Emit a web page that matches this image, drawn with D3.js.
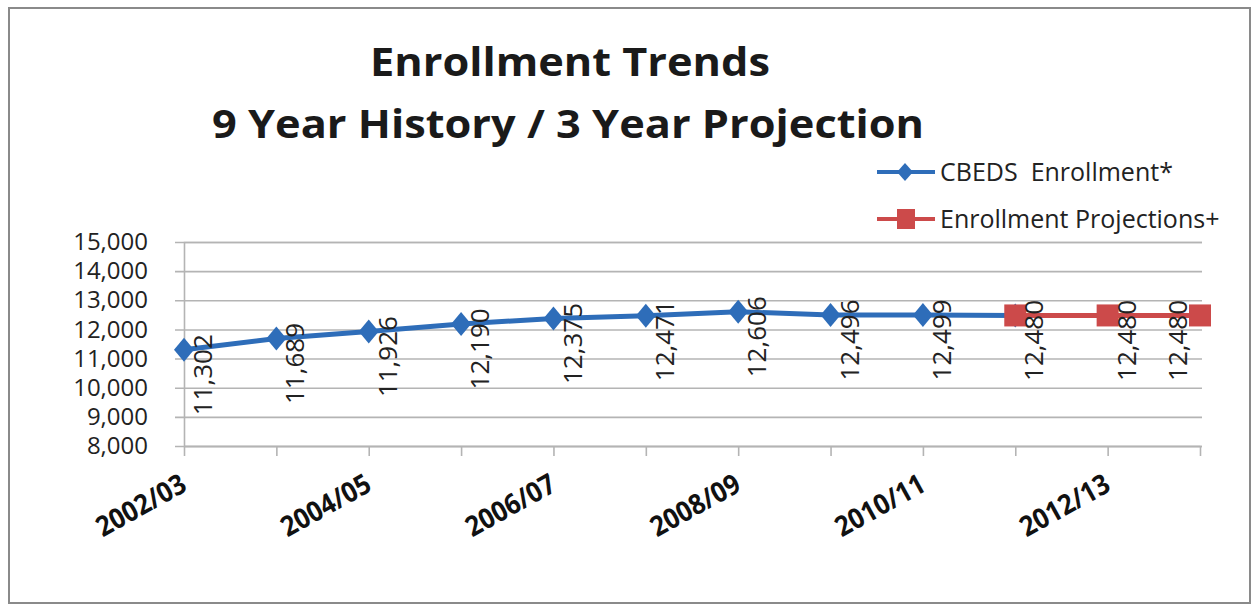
<!DOCTYPE html>
<html>
<head>
<meta charset="utf-8">
<script src="https://cdn.jsdelivr.net/npm/d3@7"></script>
<style>
  html, body { margin: 0; padding: 0; background: #fff; }
  svg { display: block; font-family: "Open Sans", "Liberation Sans", sans-serif; }
</style>
</head>
<body>
<svg id="chart"></svg>
<script>
// categories along the x axis
const years = ["2002/03", "2003/04", "2004/05", "2005/06", "2006/07", "2007/08",
	"2008/09", "2009/10", "2010/11", "2011/12", "2012/13", "2013/14"];
// only every other year gets a label
const yearLabels = ["2002/03", "2004/05", "2006/07", "2008/09", "2010/11", "2012/13"];

// CBEDS history (last value joins the line to the first projection)
const cbedsYears = years.slice(0, 10);
const cbedsValues = [11302, 11689, 11926, 12190, 12375, 12471, 12606, 12496, 12499, 12480];
// projections
const projYears = ["2011/12", "2012/13", "2013/14"];
const projValues = [12480, 12480, 12480];

const yTicks = [8000, 9000, 10000, 11000, 12000, 13000, 14000, 15000];

const W = 1257, H = 614;
const margin = { top: 242, right: 57, bottom: 168, left: 184 };
const plotW = W - margin.left - margin.right;
const plotH = H - margin.top - margin.bottom;
const blue = "#2e6db9";
const red = "#cc4a4a";
const grid = "#b4b4b4";

const svg = d3.select("#chart").attr("width", W).attr("height", H);

// outer frame
svg.append("rect")
	.attr("x", 9).attr("y", 8)
	.attr("width", 1241).attr("height", 595)
	.attr("fill", "#fff")
	.attr("stroke", "#8a8a8a")
	.attr("stroke-width", 2);

const x = d3.scalePoint().domain(years).range([0, plotW]);
const y = d3.scaleLinear().domain([8000, 15000]).range([plotH, 0]);

const g = svg.append("g").attr("transform", `translate(${margin.left},${margin.top})`);

// gridlines + y axis
const yAxis = d3.axisLeft(y)
	.tickValues(yTicks)
	.tickSize(-plotW - 2)
	.tickPadding(36)
	.tickFormat(d3.format(","));
g.append("g")
	.attr("class", "y-axis")
	.call(yAxis)
	.call(a => a.selectAll(".tick line")
		.attr("x1", -9)
		.attr("stroke", grid)
		.attr("stroke-width", 1.6))
	.call(a => a.select(".domain").attr("stroke", grid).attr("stroke-width", 1.6))
	.call(a => a.selectAll("text")
		.attr("fill", "#222")
		.attr("font-size", 24)
		.attr("font-family", "Open Sans"));

// x axis
const xAxis = d3.axisBottom(x)
	.tickSizeInner(10)
	.tickSizeOuter(0)
	.tickFormat(d => yearLabels.includes(d) ? d : "");
g.append("g")
	.attr("transform", `translate(0,${plotH})`)
	.call(xAxis)
	.call(a => a.select(".domain").attr("stroke", grid).attr("stroke-width", 1.6))
	.call(a => a.selectAll(".tick line").attr("stroke", grid).attr("stroke-width", 1.6))
	.call(a => a.selectAll("text")
		.attr("fill", "#111")
		.attr("font-size", 28)
		.attr("font-weight", 700)
		.attr("font-family", "Open Sans")
		.attr("text-anchor", "end")
		.attr("dy", null)
		.attr("y", 0)
		.attr("textLength", 98)
		.attr("lengthAdjust", "spacingAndGlyphs")
		.attr("transform", "translate(4,44) rotate(-29)"));

const line = d3.line().x(d => x(d.year)).y(d => y(d.value));
const cbeds = cbedsYears.map((yr, i) => ({ year: yr, value: cbedsValues[i] }));
const proj = projYears.map((yr, i) => ({ year: yr, value: projValues[i] }));

g.append("path").datum(cbeds)
	.attr("fill", "none").attr("stroke", blue).attr("stroke-width", 5)
	.attr("d", line);
g.append("path").datum(proj)
	.attr("fill", "none").attr("stroke", red).attr("stroke-width", 5)
	.attr("d", line);

const diamond = "M0,-12L10,0L0,12L-10,0Z";
g.append("g").selectAll("path")
	.data(cbeds)
	.join("path")
	.attr("d", diamond)
	.attr("fill", blue)
	.attr("transform", d => `translate(${x(d.year)},${y(d.value)})`);

g.append("g").selectAll("rect")
	.data(proj)
	.join("rect")
	.attr("x", d => x(d.year) - 11)
	.attr("y", d => y(d.value) - 11)
	.attr("width", 22).attr("height", 22)
	.attr("fill", red);

// data labels, rotated; projection points replace the overlapping history one
const labelled = cbeds.filter(d => !projYears.includes(d.year)).concat(proj);
g.append("g").selectAll("text")
	.data(labelled)
	.join("text")
	.attr("transform", d => {
		const lx = Math.min(x(d.year) + 19, plotW - 22);
		return `translate(${lx},${y(d.value) + 25}) rotate(-90)`;
	})
	.attr("text-anchor", "middle")
	.attr("dy", "0.35em")
	.attr("font-size", 26)
	.attr("fill", "#222")
	.text(d => d3.format(",")(d.value));

// title
const title = svg.append("g").attr("font-weight", 700).attr("fill", "#1a1a1a").attr("font-size", 40);
title.append("text").attr("x", 570).attr("y", 76).attr("text-anchor", "middle")
	.attr("textLength", 400).attr("lengthAdjust", "spacingAndGlyphs")
	.text("Enrollment Trends");
title.append("text").attr("x", 568).attr("y", 138).attr("text-anchor", "middle")
	.attr("textLength", 712).attr("lengthAdjust", "spacingAndGlyphs")
	.text("9 Year History / 3 Year Projection");

// legend
const legend = svg.append("g").attr("transform", "translate(877,172)");
const items = [
	{ name: "CBEDS  Enrollment*", color: blue, shape: "diamond" },
	{ name: "Enrollment Projections+", color: red, shape: "square" }
];
const li = legend.selectAll("g").data(items).join("g")
	.attr("transform", (d, i) => `translate(0,${i * 47})`);
li.append("line").attr("x1", 0).attr("x2", 58)
	.attr("stroke", d => d.color).attr("stroke-width", 4);
li.filter(d => d.shape === "diamond").append("path")
	.attr("d", "M0,-9L8,0L0,9L-8,0Z").attr("fill", blue)
	.attr("transform", "translate(28,0)");
li.filter(d => d.shape === "square").append("rect")
	.attr("x", 20).attr("y", -10).attr("width", 18).attr("height", 20)
	.attr("fill", red);
li.append("text").attr("x", 63).attr("dy", "0.35em")
	.attr("font-size", 25).attr("fill", "#222")
	.style("white-space", "pre")
	.text(d => d.name);
</script>
</body>
</html>
